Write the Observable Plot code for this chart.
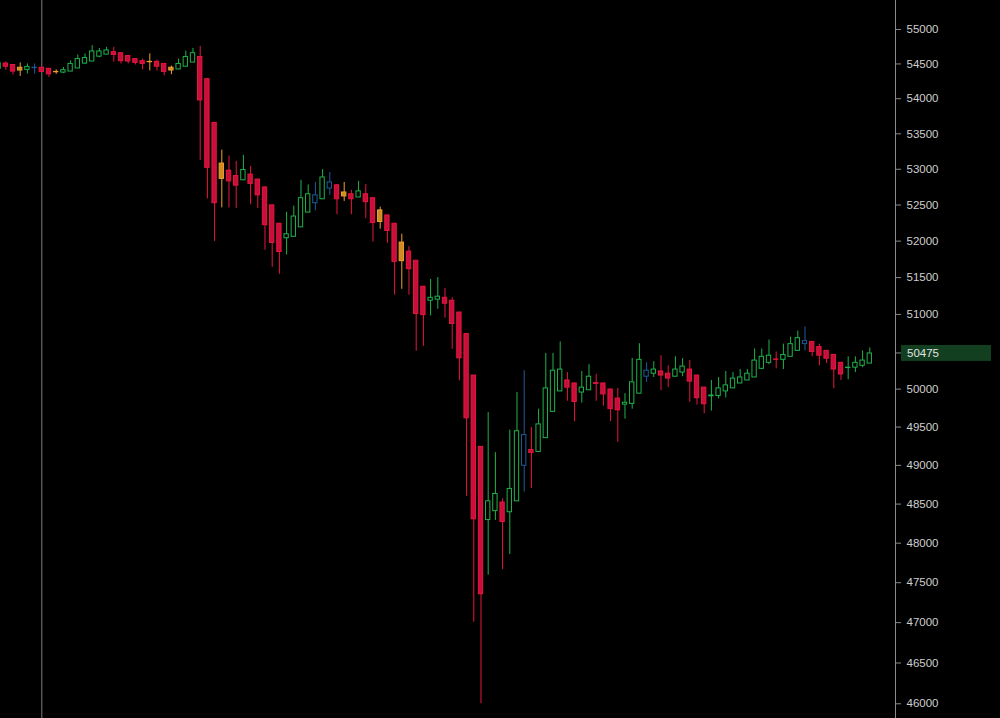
<!DOCTYPE html>
<html>
<head>
<meta charset="utf-8">
<script src="https://cdn.jsdelivr.net/npm/d3@7"></script>
<script src="https://cdn.jsdelivr.net/npm/@observablehq/plot@0.6"></script>
<style>
  html, body { margin: 0; padding: 0; background: #000; }
  #chart svg { display: block; }
  g[aria-label="y-axis tick"] { stroke: #8a8a8a; }
  g[aria-label="y-axis tick label"] { fill: #cfcfcf; }
</style>
</head>
<body>
<div id="chart"></div>
<script>
// OHLC per candle (index 0..121), kind: g = up (hollow green), r = down (filled red),
// o = orange filled, b = blue hollow
const opens  = [54430,54505,54485,54445,54415,54440,54445,54430,54385,54375,54390,54435,54505,54535,54605,54635,54670,54655,54615,54570,54540,54530,54530,54500,54445,54420,54460,54520,54600,54280,53655,53080,52980,52905,52845,52925,52855,52745,52495,52240,52040,52060,52190,52395,52525,52580,52730,52775,52675,52650,52605,52650,52595,52425,52355,52240,51980,51855,51730,51375,51185,51200,51225,51185,51025,50735,50180,49240,48295,48410,48520,48395,48535,48995,49200,49175,49355,49700,49970,50115,50075,49955,49985,50080,50075,49995,49875,49795,49805,49940,50165,50205,50235,50205,50165,50220,50260,50180,50020,49905,49910,49970,50010,50075,50115,50155,50270,50350,50395,50390,50430,50510,50600,50630,50560,50510,50455,50350,50280,50285,50310,50340];
const highs  = [54540,54530,54490,54515,54500,54500,54450,54430,54415,54450,54545,54630,54645,54765,54725,54740,54740,54660,54620,54575,54570,54645,54555,54500,54470,54570,54685,54725,54755,54290,53660,53270,53185,53110,53195,53040,52860,52750,52500,52245,52400,52485,52845,52780,52815,52995,52955,52780,52815,52705,52830,52785,52600,52470,52360,52245,52095,51925,51735,51380,51475,51500,51350,51225,51030,50740,50185,49245,49690,49165,48570,49460,49955,50245,49495,49735,50475,50475,50630,50220,50080,50235,50325,50195,50080,50000,50010,49940,50410,50605,50350,50365,50445,50310,50430,50405,50380,50185,50025,50115,50155,50235,50220,50260,50260,50535,50535,50655,50495,50600,50695,50775,50830,50635,50600,50515,50460,50355,50430,50430,50510,50550];
const lows   = [54420,54410,54340,54320,54355,54355,54380,54305,54350,54360,54390,54435,54490,54535,54590,54635,54525,54500,54500,54485,54415,54400,54400,54330,54345,54420,54460,54520,53125,52585,51995,52460,52460,52450,52845,52505,52450,51875,51640,51545,51810,52060,52190,52395,52420,52580,52635,52365,52550,52365,52605,52310,51990,52165,51970,51260,51340,51260,50505,50570,50980,51070,50950,50530,50110,48600,47005,46000,47595,48290,47665,47855,48535,48655,48700,49175,49355,49700,49970,49840,49570,49815,49985,49840,49775,49570,49300,49605,49735,49940,50090,50155,49980,50020,50165,50165,49825,49790,49675,49710,49870,49885,50010,50075,50115,50155,50260,50325,50270,50260,50430,50510,50510,50430,50310,50340,50005,50115,50125,50220,50285,50340];
const closes = [54510,54460,54390,54405,54455,54445,54385,54350,54380,54410,54500,54570,54585,54680,54680,54695,54630,54540,54535,54515,54500,54525,54460,54385,54405,54500,54600,54655,53975,53020,52525,52865,52830,52770,52990,52795,52635,52220,51975,51850,52095,52340,52595,52650,52635,52885,52815,52580,52620,52580,52690,52540,52250,52265,52140,51715,51725,51615,51005,50990,51225,51240,51145,50870,50410,49615,48305,47355,48535,48630,48270,48695,49445,49395,49160,49535,50010,50245,50260,50020,49830,50020,50165,50070,49930,49735,49720,49820,50090,50390,50245,50260,50180,50140,50260,50300,50100,49880,49800,49915,50010,50050,50140,50155,50205,50380,50430,50445,50390,50455,50600,50680,50640,50495,50445,50405,50260,50195,50285,50350,50380,50475];
const kinds  = "grrogbrrogggggggrrrrrorrogggrrrorrgrrrrrggggbgbrorgrrorrorrrggrrrrrrggrggbrggggrrggrrrrgggbgrrggrrrgggggggggrgggbrrrrrgggg".split("");
// 50500 is hidden behind the last-price tag in the reference
const yTicks = [46000,46500,47000,47500,48000,48500,49000,49500,50000,51000,51500,52000,52500,53000,53500,54000,54500,55000];
const crosshairIndex = [6];
const lastPrice = 50475;

const palette = {
  g: {stroke: "#1fb34b", fill: "#000000"},
  r: {stroke: "#e8163e", fill: "#c80f3b"},
  o: {stroke: "#f0a030", fill: "#cf8a22"},
  b: {stroke: "#1f5b9c", fill: "#000000"}
};

const candles = opens.map((o, i) => ({
  i, open: o, high: highs[i], low: lows[i], close: closes[i], kind: kinds[i]
}));

const xDomain = [0.264, 124.57];

const plot = Plot.plot({
  width: 1000,
  height: 718,
  marginLeft: 0,
  marginRight: 105,
  marginTop: 0,
  marginBottom: 0,
  style: {background: "#000", fontFamily: "Liberation Sans, Arial, sans-serif", fontSize: "11.5px", color: "#cfcfcf"},
  x: {domain: xDomain, axis: null},
  y: {type: "log", domain: [45821, 55424], axis: null},
  marks: [
    Plot.ruleX(crosshairIndex, {stroke: "#7c7c7c", strokeWidth: 1}),
    Plot.ruleX(candles, {x: "i", y1: "low", y2: "high", stroke: d => palette[d.kind].stroke, strokeWidth: 1}),
    Plot.rect(candles, {
      x1: d => d.i - 0.3, x2: d => d.i + 0.3,
      y1: "open", y2: "close",
      fill: d => palette[d.kind].fill,
      stroke: d => palette[d.kind].stroke,
      strokeWidth: 1
    }),
    Plot.ruleX([xDomain[1]], {stroke: "#8a8a8a"}),
    Plot.axisY({anchor: "right", ticks: yTicks, tickSize: 5, tickPadding: 6, tickFormat: d3.format("d"), label: null})
  ]
});

document.getElementById("chart").appendChild(plot);

// last price tag in the right margin, positioned through the plot's y scale
const yPos = plot.scale("y").apply(lastPrice);
const xEdge = plot.scale("x").apply(xDomain[1]);
const svg = d3.select(plot);
const g = svg.append("g").attr("aria-label", "last price");
g.append("line").attr("x1", xEdge).attr("x2", xEdge + 6).attr("y1", yPos).attr("y2", yPos).attr("stroke", "#8a8a8a");
g.append("rect").attr("x", xEdge + 6).attr("y", yPos - 8).attr("width", 90).attr("height", 16).attr("fill", "#113f20");
g.append("text").attr("x", xEdge + 12).attr("y", yPos).attr("dy", "0.35em")
  .attr("text-anchor", "start")
  .attr("fill", "#e2e2e2").attr("font-size", "11.5px").text(String(lastPrice));
</script>
</body>
</html>
